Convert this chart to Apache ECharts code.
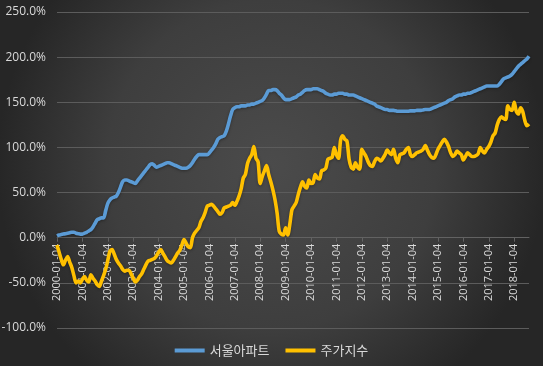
<!DOCTYPE html>
<html><head><meta charset="utf-8">
<script src="https://cdn.jsdelivr.net/npm/echarts@6/dist/echarts.min.js"></script>
<style>html,body{margin:0;padding:0;width:543px;height:366px;overflow:hidden;}#c{width:543px;height:366px;}</style>
</head><body><div id="c"></div>
<script>
// Monthly series from 2000-01 to 2018-08
const startYear = 2000, monthCount = 224;
const categories = [];
for (let k = 0; k < monthCount; k++) {
  const y = startYear + Math.floor(k / 12), m = (k % 12) + 1;
  categories.push(y + '-' + (m < 10 ? '0' + m : m) + '-04');
}
const seriesNames = ['서울아파트', '주가지수'];
const seoulApt = [
  2,3,3.5,4,4.5,5,5.5,6,6,5,4.5,4,
  4,5,6,7.5,9,12,16,20,21,22,22,30,
  38,42,44,45,46,50,56,62,64,64,63,62,
  61,60,63,66,69,72,75,78,81,82,80,78,
  79,80,81,82,83,83,82,81,80,79,78,77,
  77,77,78,80,83,87,90,92,92,92,92,92,
  94,97,100,104,109,111,112,113,118,126,135,142,
  144,145,145,146,146,146,147,147,148,148,149,150,
  151,152,155,159,163,163,164,164,163,160,158,155,
  153,153,153,154,155,156,158,159,161,163,164,164,
  164,165,165,165,164,163,162,160,159,158,158,159,
  159,160,160,160,159,159,158,158,158,157,156,155,
  154,153,152,151,150,149,148,146,145,144,143,142,
  142,141,141,141,140.5,140,140,140,140,140,140,140.5,
  140.5,140.5,141,141,141,141.5,142,142,142,143,144,145,
  146,147,148,149,150,152,153,154,156,157,158,158,
  159,159,160,160,161,162,163,164,165,166,167,168,
  168,168,168,168,168,170,173,176,177,178,179,181,
  184,187,190,192,194,196,198,201
];
const stockIdx = [
  -8,-16,-24,-30,-25,-21,-27,-33,-42,-50,-48,-50,
  -46,-43,-47,-49,-41,-45,-48,-52,-54,-48,-42,-35,
  -25,-15,-13,-18,-24,-28,-31,-35,-37,-36,-36,-40,
  -45,-49,-47,-43,-40,-35,-30,-26,-25,-24,-23,-20,
  -16,-13,-17,-21,-25,-27,-28,-25,-21,-17,-14,-8,
  -2,-6,-10,-11,0,5,8,11,18,22,28,35,
  36,37,35,32,29,26,28,33,34,35,36,39,
  36,40,46,54,66,70,82,88,92,101,88,84,
  60,68,74,80,70,62,53,42,27,7,4,3,
  11,3,15,31,35,39,48,56,62,57,55,64,
  60,61,70,66,65,74,75,77,87,88,89,100,
  92,88,108,113,109,107,87,78,76,83,78,76,
  98,94,90,84,80,79,84,88,87,85,88,92,
  97,94,92,98,88,83,92,93,94,98,100,92,
  90,92,94,95,96,98,102,97,92,89,88,92,
  98,102,106,109,106,101,94,90,92,96,94,92,
  86,90,94,92,90,90,91,93,100,96,94,98,
  101,106,113,116,125,131,134,132,131,146,142,141,
  150,140,137,144,140,130,124,126
];
const yMin = -100, yMax = 250, yStep = 50;
const gridTop = 12, gridBottom = 38, H = 366;
const plotH = H - gridTop - gridBottom;
const zeroOffset = -plotH * (0 - yMin) / (yMax - yMin);

const chart = echarts.init(document.getElementById('c'), null, {renderer: 'canvas'});
const lineSeries = (name, data, color) => ({
  name, type: 'line', data, smooth: 0.3, symbol: 'none',
  lineStyle: {color, width: 3.6, shadowColor: 'rgba(0,0,0,0.35)', shadowBlur: 3, shadowOffsetY: 1},
  itemStyle: {color}
});
chart.setOption({
  animation: false,
  backgroundColor: {type: 'radial', x: 0.5, y: 0.45, r: 0.75,
    colorStops: [{offset: 0, color: '#4b4b4b'}, {offset: 0.6, color: '#3e3e3e'}, {offset: 1, color: '#262626'}]},
  textStyle: {fontFamily: '"Noto Sans CJK KR", "Noto Sans", sans-serif'},
  grid: {left: 57, right: 14, top: gridTop, bottom: gridBottom, containLabel: false, outerBoundsMode: 'none'},
  legend: {
    bottom: 4, left: 'center', icon: 'rect', itemWidth: 30, itemHeight: 4, itemGap: 16,
    textStyle: {color: '#d9d9d9', fontSize: 13},
    data: seriesNames
  },
  xAxis: {
    type: 'category', data: categories, boundaryGap: false, position: 'bottom', offset: zeroOffset,
    axisLine: {onZero: false, lineStyle: {color: '#626262', width: 1}},
    axisTick: {show: true, interval: 11, length: 4, lineStyle: {color: '#626262'}},
    axisLabel: {interval: 11, rotate: 90, color: '#d9d9d9', fontSize: 11, margin: 6,
      fontFamily: '"Open Sans", "Noto Sans", sans-serif'},
    splitLine: {show: false}
  },
  yAxis: {
    type: 'value', min: yMin, max: yMax, interval: yStep,
    axisLine: {show: false}, axisTick: {show: false},
    axisLabel: {color: '#d9d9d9', fontSize: 12, margin: 11,
      formatter: v => v.toFixed(1) + '%', fontFamily: '"Open Sans", "Noto Sans", sans-serif'},
    splitLine: {lineStyle: {color: '#5c5c5c', width: 1}}
  },
  series: [
    lineSeries(seriesNames[0], seoulApt, '#5b9bd5'),
    lineSeries(seriesNames[1], stockIdx, '#ffc000')
  ]
});
</script></body></html>
